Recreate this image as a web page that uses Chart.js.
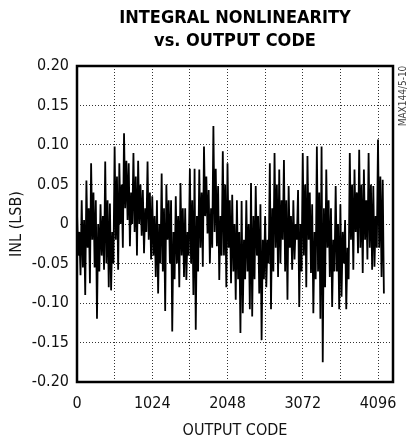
<!DOCTYPE html>
<html>
<head>
<meta charset="utf-8">
<title>Integral Nonlinearity vs. Output Code</title>
<script src="https://cdn.jsdelivr.net/npm/chart.js@4.4.1/dist/chart.umd.min.js"></script>
<style>
    html, body { margin: 0; padding: 0; background: #fff; }
    #wrap { width: 411px; height: 443px; }
</style>
</head>
<body>
<div id="wrap"><canvas id="inlChart" width="411" height="443"></canvas></div>
<script>
// Chart values
const titleLines = ['INTEGRAL NONLINEARITY', 'vs. OUTPUT CODE'];
const xAxisTitle = 'OUTPUT CODE';
const yAxisTitle = 'INL (LSB)';
const sideNote = 'MAX144/5-10';

const xGridCodes = [0, 512, 1024, 1536, 2048, 2560, 3072, 3584, 4096];
const xLabelCodes = [0, 1024, 2048, 3072, 4096];
const yTickValues = [-0.20, -0.15, -0.10, -0.05, 0, 0.05, 0.10, 0.15, 0.20];
const xMin = 0, xMax = 4300;
const yMin = -0.20, yMax = 0.20;

// one sample every CODE_STEP codes, starting at code 0
const CODE_STEP = 16;
const inlValues = [
    0.015, -0.040, -0.010, -0.065,   0.030, -0.055, 0.005, -0.090,
    0.055, -0.030, 0.020, -0.075,    0.077, -0.020, 0.040, -0.055,
    0.030, -0.120, 0.000, -0.060,    0.025, -0.040, 0.010, -0.058,
    0.079, -0.050, 0.030, -0.080,    0.026, -0.084, -0.010, -0.050,
    0.098, -0.020, 0.060, -0.058,    0.077, 0.000, 0.050, -0.030,
    0.115, 0.020, 0.080, 0.005,      0.077, -0.028, 0.040, 0.000,
    0.090, -0.010, 0.060, -0.040,    0.080, 0.000, 0.050, -0.015,
    0.043, -0.037, 0.020, -0.010,    0.079, -0.020, 0.040, -0.045,
    0.035, -0.040, 0.010, -0.067,    0.030, -0.088, 0.000, -0.050,
    0.064, -0.060, 0.020, -0.110,    0.050, -0.020, 0.030, -0.050,
    0.030, -0.136, -0.010, -0.070,   0.035, -0.050, 0.010, -0.080,
    0.052, -0.040, 0.020, -0.067,    0.020, -0.071, -0.010, -0.040,
    0.070, -0.050, 0.030, -0.090,    0.070, -0.134, 0.010, -0.060,
    0.069, -0.030, 0.040, -0.054,    0.098, 0.010, 0.060, -0.012,
    0.043, -0.050, 0.020, -0.030,    0.124, -0.010, 0.070, -0.028,
    0.048, -0.071, 0.010, -0.040,    0.092, -0.040, 0.050, -0.080,
    0.077, -0.030, 0.030, -0.075,    0.037, -0.060, 0.000, -0.096,
    0.030, -0.070, -0.010, -0.138,   0.029, -0.113, -0.020, -0.070,
    0.030, -0.060, 0.000, -0.108,    0.052, -0.117, 0.010, -0.070,
    0.048, -0.040, 0.010, -0.088,    0.025, -0.147, -0.020, -0.070,
    0.010, -0.080, -0.020, -0.050,   0.077, -0.108, 0.020, -0.060,
    0.090, -0.030, 0.050, -0.067,    0.069, -0.050, 0.030, -0.020,
    0.081, -0.060, 0.030, -0.096,    0.048, -0.030, 0.010, -0.058,
    0.030, -0.045, 0.000, -0.020,    0.043, -0.105, 0.000, -0.060,
    0.090, -0.040, 0.050, -0.080,    0.086, -0.020, 0.040, -0.062,
    0.025, -0.113, -0.010, -0.070,   0.098, -0.060, 0.040, -0.120,
    0.098, -0.175, 0.020, -0.080,    0.069, -0.030, 0.030, -0.067,
    0.020, -0.105, -0.020, -0.060,   0.048, -0.060, 0.000, -0.108,
    0.025, -0.092, -0.010, -0.050,   0.005, -0.108, -0.030, -0.070,
    0.090, -0.020, 0.050, -0.058,    0.069, -0.010, 0.040, -0.037,
    0.094, -0.030, 0.050, -0.062,    0.069, -0.020, 0.030, -0.045,
    0.090, -0.030, 0.050, -0.058,    0.048, -0.054, 0.010, -0.030,
    0.107, -0.030, 0.060, -0.067,    0.056, -0.088
];

const NARROW = '"Liberation Sans Narrow", "Arial Narrow", "DejaVu Sans Condensed", sans-serif';

const points = inlValues.map((v, i) => ({ x: i * CODE_STEP, y: v }));

// title, frame and side note are drawn around the plot box
const decorPlugin = {
    id: 'decor',
    afterDatasetsDraw(chart) {
        const { ctx, chartArea: a } = chart;
        ctx.save();
        ctx.strokeStyle = '#000';
        ctx.lineWidth = 2.5;
        ctx.strokeRect(a.left, a.top, a.right - a.left, a.bottom - a.top);

        const cx = (a.left + a.right) / 2;
        ctx.fillStyle = '#000';
        ctx.textAlign = 'center';
        ctx.textBaseline = 'middle';
        ctx.font = 'bold 18px ' + NARROW;
        ctx.fillText(titleLines[0], cx, 18);
        ctx.fillText(titleLines[1], cx, 41);

        ctx.translate(a.right + 10, a.top + 30);
        ctx.rotate(-Math.PI / 2);
        ctx.font = '10px ' + NARROW;
        ctx.fillStyle = '#444';
        ctx.fillText(sideNote, 0, 0);
        ctx.restore();
    }
};

const ctx = document.getElementById('inlChart').getContext('2d');
new Chart(ctx, {
    type: 'line',
    data: {
        datasets: [{
            data: points,
            borderColor: '#000',
            borderWidth: 1.8,
            borderJoinStyle: 'bevel',
            pointRadius: 0,
            tension: 0,
            fill: false
        }]
    },
    options: {
        responsive: false,
        animation: false,
        layout: { padding: { top: 66, right: 18, left: 0, bottom: 0 } },
        plugins: {
            legend: { display: false },
            tooltip: { enabled: false },
            title: { display: false }
        },
        scales: {
            x: {
                type: 'linear',
                min: xMin,
                max: xMax,
                afterBuildTicks: (scale) => {
                    scale.ticks = xGridCodes.map(v => ({ value: v }));
                },
                afterFit: (scale) => { scale.height = 61; },
                grid: {
                    color: '#333',
                    lineWidth: 1,
                    drawTicks: false
                },
                // in v4 the dash of the grid lines comes from border.dash
                border: { display: false, dash: [1, 2] },
                ticks: {
                    autoSkip: false,
                    maxRotation: 0,
                    padding: 12,
                    color: '#111',
                    font: { family: NARROW, size: 16 },
                    callback: (v) => xLabelCodes.includes(v) ? String(v) : ''
                },
                title: {
                    display: true,
                    text: xAxisTitle,
                    color: '#111',
                    font: { family: NARROW, size: 16 },
                    padding: { top: 0, bottom: 3 }
                }
            },
            y: {
                type: 'linear',
                min: yMin,
                max: yMax,
                afterBuildTicks: (scale) => {
                    scale.ticks = yTickValues.map(v => ({ value: v }));
                },
                afterFit: (scale) => { scale.width = 77; },
                grid: {
                    color: '#333',
                    lineWidth: 1,
                    drawTicks: false
                },
                border: { display: false, dash: [1, 2] },
                ticks: {
                    padding: 8,
                    color: '#111',
                    font: { family: NARROW, size: 16 },
                    callback: (v) => v === 0 ? '0' : v.toFixed(2)
                },
                title: {
                    display: true,
                    text: yAxisTitle,
                    color: '#111',
                    font: { family: NARROW, size: 16 },
                    padding: { top: 7, bottom: 0 }
                }
            }
        }
    },
    plugins: [decorPlugin]
});
</script>
</body>
</html>
